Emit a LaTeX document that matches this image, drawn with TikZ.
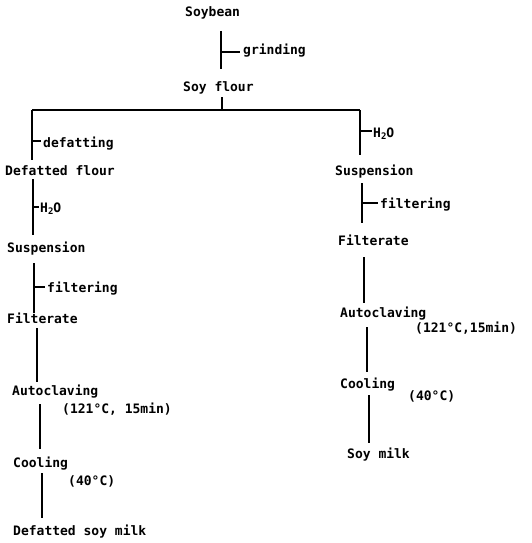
\documentclass[tikz,border=0pt]{standalone}
\usepackage{fontspec}
\setmonofont{DejaVu Sans Mono}
\begin{document}
\begin{tikzpicture}[x=1pt,y=-1pt,
  txt/.style={anchor=base west, inner sep=0pt, font=\ttfamily\bfseries\fontsize{13}{15}\selectfont},
  ln/.style={line width=1.5pt, line cap=butt},
  tk/.style={line width=1.2pt}]
\useasboundingbox (0,0) rectangle (532,543);
% ---------- centre
\node[txt] (soybean) at (185,17) {Soybean};
\node[txt] (grind) at (243,55) {grinding};
\node[txt] (soyflour) at (183,92) {Soy flour};
\coordinate (c1a) at (221,31);
\coordinate (c1b) at (221,69);
\coordinate (c1t) at (221,52);
\coordinate (c1e) at (240,52);
\draw[ln] (c1a) -- (c1b);
\draw[tk] (c1t) -- (c1e);
\coordinate (c2a) at (222,97);
\coordinate (hl) at (32,110);
\coordinate (hr) at (360,110);
\coordinate (hc) at (222,110);
\draw[ln] (c2a) -- (hc);
\draw[ln] (hl) -- (hr);
% ---------- left branch
\node[txt] (ldefat) at (43,147) {defatting};
\node[txt] (ldflour) at (5,175) {Defatted flour};
\node[txt] (lh2o) at (40,212) {H\raisebox{-0.35ex}{\fontsize{9}{10}\selectfont 2}O};
\node[txt] (lsusp) at (7,252) {Suspension};
\node[txt] (lfilt) at (47,292) {filtering};
\node[txt] (lfilter) at (7,323) {Filterate};
\node[txt] (lauto) at (12,395) {Autoclaving};
\node[txt] (lautoc) at (62,413) {(121°C, 15min)};
\node[txt] (lcool) at (13,467) {Cooling};
\node[txt] (lcoolc) at (68,485) {(40°C)};
\node[txt] (lmilk) at (13,535) {Defatted soy milk};
\coordinate (la1) at (32,160);
\coordinate (lt1) at (32,141); \coordinate (lt1e) at (41,141);
\draw[ln] (hl) -- (la1);
\draw[tk] (lt1) -- (lt1e);
\coordinate (lb0) at (33,179); \coordinate (lb1) at (33,235);
\coordinate (lt2) at (33,207); \coordinate (lt2e) at (39,207);
\draw[ln] (lb0) -- (lb1);
\draw[tk] (lt2) -- (lt2e);
\coordinate (lc0) at (34,263); \coordinate (lc1) at (34,313);
\coordinate (lt3) at (34,287); \coordinate (lt3e) at (45,287);
\draw[ln] (lc0) -- (lc1);
\draw[tk] (lt3) -- (lt3e);
\coordinate (ld0) at (37,328); \coordinate (ld1) at (37,382);
\draw[ln] (ld0) -- (ld1);
\coordinate (le0) at (40,404); \coordinate (le1) at (40,449);
\draw[ln] (le0) -- (le1);
\coordinate (lf0) at (42,473); \coordinate (lf1) at (42,518);
\draw[ln] (lf0) -- (lf1);
% ---------- right branch
\node[txt] (rh2o) at (373,137) {H\raisebox{-0.35ex}{\fontsize{9}{10}\selectfont 2}O};
\node[txt] (rsusp) at (335,175) {Suspension};
\node[txt] (rfilt) at (380,208) {filtering};
\node[txt] (rfilter) at (338,245) {Filterate};
\node[txt] (rauto) at (340,317) {Autoclaving};
\node[txt] (rautoc) at (415,332) {(121°C,15min)};
\node[txt] (rcool) at (340,388) {Cooling};
\node[txt] (rcoolc) at (408,400) {(40°C)};
\node[txt] (rmilk) at (347,458) {Soy milk};
\coordinate (ra1) at (360,155);
\coordinate (rt1) at (360,131); \coordinate (rt1e) at (372,131);
\draw[ln] (hr) -- (ra1);
\draw[tk] (rt1) -- (rt1e);
\coordinate (rb0) at (362,183); \coordinate (rb1) at (362,223);
\coordinate (rt2) at (362,203); \coordinate (rt2e) at (378,203);
\draw[ln] (rb0) -- (rb1);
\draw[tk] (rt2) -- (rt2e);
\coordinate (rc0) at (364,257); \coordinate (rc1) at (364,303);
\draw[ln] (rc0) -- (rc1);
\coordinate (rd0) at (367,327); \coordinate (rd1) at (367,372);
\draw[ln] (rd0) -- (rd1);
\coordinate (re0) at (369,395); \coordinate (re1) at (369,443);
\draw[ln] (re0) -- (re1);
\end{tikzpicture}
\end{document}
